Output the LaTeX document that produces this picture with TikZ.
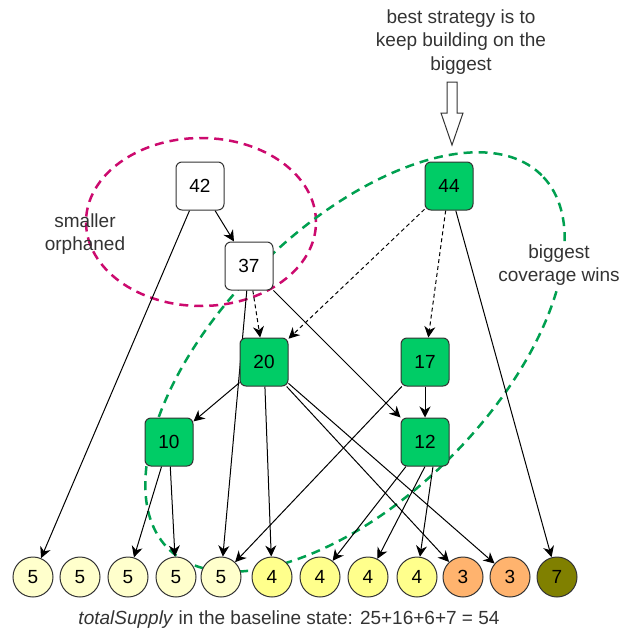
\documentclass[tikz,border=0pt]{standalone}
\usepackage{fontspec}
\setmainfont{Liberation Sans}
\usetikzlibrary{arrows.meta,backgrounds}
\definecolor{pickgreen}{HTML}{00CC66}
\definecolor{regiongreen}{HTML}{00A050}
\definecolor{regionpink}{HTML}{CC0A6E}
\definecolor{supplyfive}{HTML}{FFFFCC}
\definecolor{supplyfour}{HTML}{FFFF8C}
\definecolor{supplythree}{HTML}{FFB36E}
\definecolor{supplyseven}{HTML}{808000}
\begin{document}
\begin{tikzpicture}[x=1pt, y=-1pt,
    font=\fontsize{19}{23.5}\selectfont,
    box/.style={draw=black!80, line width=1pt, rounded corners=6pt,
      minimum size=48pt, inner sep=0pt, fill=white},
    picked/.style={box, fill=pickgreen},
    supply/.style={circle, draw=black!80, line width=1pt,
      minimum size=40pt, inner sep=0pt},
    link/.style={-{Stealth[length=11pt, width=11pt, inset=3.5pt]}, line width=1pt},
    hint/.style={link, dash pattern=on 4pt off 3pt},
    region/.style={line width=2.5pt, dash pattern=on 9pt off 6pt},
    note/.style={align=center, inner sep=1pt, text=black!80}]
  \useasboundingbox (0,0) rectangle (629,637);
  \path
    (200,186) node[box] (42){42}
    (249,266) node[box] (37){37}
    (449,186) node[picked] (44){44}
    (264,362) node[picked] (20){20}
    (425,362) node[picked] (17){17}
    (169,442) node[picked] (10){10}
    (425,442) node[picked] (12){12};
  \path
    (33,577) node[supply, fill=supplyfive] (s1){5}
    (80,577) node[supply, fill=supplyfive] (s2){5}
    (128,577) node[supply, fill=supplyfive] (s3){5}
    (176,577) node[supply, fill=supplyfive] (s4){5}
    (221,577) node[supply, fill=supplyfive] (s5){5}
    (272,577) node[supply, fill=supplyfour] (s6){4}
    (320,577) node[supply, fill=supplyfour] (s7){4}
    (368,577) node[supply, fill=supplyfour] (s8){4}
    (417,577) node[supply, fill=supplyfour] (s9){4}
    (463,577) node[supply, fill=supplythree] (s10){3}
    (510,577) node[supply, fill=supplythree] (s11){3}
    (557,577) node[supply, fill=supplyseven] (s12){7};
  \node[note] (topnote) at (461,42) {best strategy is to\\keep building on the\\biggest};
  \node[note] (orphannote) at (85,234) {smaller\\orphaned};
  \node[note, fill=white] (winsnote) at (559,265) {biggest\\coverage wins};
  \node[note] (totalnote) at (289,620) {\textit{totalSupply} in the baseline state: 25+16+6+7 = 54};
  % hollow pointer down to 44
  \draw[line width=1pt, draw=black!80, fill=white]
    (447,82) -- (457,82) -- (457,113) -- (463,113) -- (452,145)
    -- (441,113) -- (447,113) -- cycle;
  \begin{scope}[on background layer]
    \draw[region, regionpink] (201,222) ellipse [x radius=115pt, y radius=84pt];
    \draw[region, regiongreen, rotate around={45:(355,362)}]
      (355,362) ellipse [x radius=264pt, y radius=135pt];
    \draw[link] (42) to (37);
    \draw[link] (42) to (s1);
    \draw[hint] (37) to (20);
    \draw[link] (37) to (s5);
    \draw[link] (37) to (12);
    \draw[hint] (44) to (20);
    \draw[hint] (44) to (17);
    \draw[link] (44) to (s12);
    \draw[link] (20) to (10);
    \draw[link] (20) to (s6);
    \draw[link] (20) to (s10);
    \draw[link] (20) to (s11);
    \draw[link] (17) to (12);
    \draw[link] (17) to (s5);
    \draw[link] (10) to (s3);
    \draw[link] (10) to (s4);
    \draw[link] (12) to (s7);
    \draw[link] (12.south) to (s8);
    \draw[link] ([xshift=8pt]12.south) to (s9);
  \end{scope}
\end{tikzpicture}
\end{document}
